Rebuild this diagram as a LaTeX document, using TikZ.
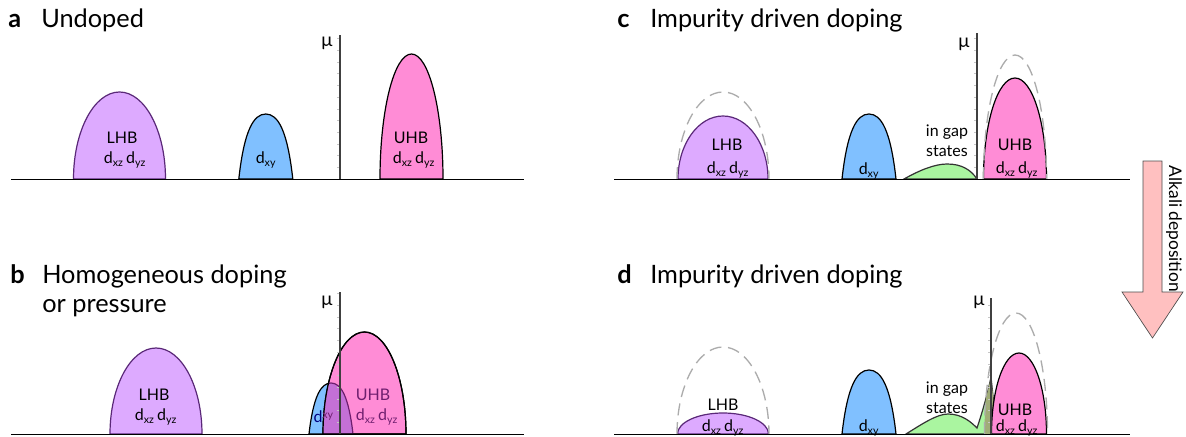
\documentclass[tikz,border=0pt]{standalone}
\usepackage{fontspec}
\setmainfont{Lato}

\definecolor{lhbfill}{RGB}{221,170,255}
\definecolor{lhbline}{RGB}{90,40,120}
\definecolor{dxyfill}{RGB}{128,192,255}
\definecolor{uhbfill}{RGB}{255,140,214}
\definecolor{gapfill}{RGB}{170,245,160}
\definecolor{gapdark}{RGB}{160,172,120}
\definecolor{mixfill}{RGB}{196,112,214}
\definecolor{mixline}{RGB}{110,30,110}
\definecolor{arrowfill}{RGB}{255,192,192}

% rounded band standing on the energy axis
\newcommand{\dome}[4]{({#1-#3},{#2}) arc[start angle=180,end angle=0,x radius=#3,y radius=#4] -- cycle}
% narrower, pointed band
\newcommand{\peak}[4]{({#1-#3},{#2}) .. controls ({#1-0.8*#3},{#2+0.75*#4}) and ({#1-0.45*#3},{#2+#4}) .. ({#1},{#2+#4})
  .. controls ({#1+0.45*#3},{#2+#4}) and ({#1+0.8*#3},{#2+0.75*#4}) .. ({#1+#3},{#2}) -- cycle}

\tikzset{
  band/.style={line width=0.9pt, draw=black},
  lhb/.style={band, fill=lhbfill, draw=lhbline},
  dxy/.style={band, fill=dxyfill},
  uhb/.style={band, fill=uhbfill},
  gap/.style={band, fill=gapfill, draw=black!80},
  ghost/.style={draw=gray!65, line width=1pt, dash pattern=on 9pt off 5pt},
  axisline/.style={line width=0.9pt, draw=black!75},
  tick/.style={draw=gray!45, line width=0.4pt},
  floor/.style={line width=0.75pt, draw=black},
  title/.style={font=\fontsize{19}{21.75}\selectfont, anchor=base west, inner sep=0pt},
  tag/.style={font=\fontsize{19}{21.75}\selectfont\bfseries, anchor=base west, inner sep=0pt},
  lbl/.style={font=\fontsize{12}{15}\selectfont, inner sep=0pt, align=center},
  mu/.style={font=\fontsize{14}{14}\selectfont, inner sep=0pt},
  arrowbox/.style={fill=arrowfill, draw=gray!60!black, line width=0.5pt},
}

\begin{document}
\begin{tikzpicture}[x=0.75pt, y=0.75pt]
\useasboundingbox (0,0) rectangle (1186,-436);

% a: undoped
\path[lhb] \dome{119.5}{-179}{46}{87};
\path[dxy] \peak{265.8}{-179}{27}{65};
\path[uhb] \dome{411.5}{-179}{31.5}{125};
\foreach \k in {1,...,12}
  \draw[tick] (337,{-179+\k*11.7}) -- (340,{-179+\k*11.7});
\draw[axisline] (340,-179) -- (340,-35);
\draw[floor] (11,-179) -- (524,-179);
\node[tag] (tagA) at (8,-27) {a};
\node[title] (titleA) at (41,-27) {Undoped};
\node[mu] (muA) at (327,-43) {μ};
\node[lbl] (lhbA) at (122,-138) {LHB};
\node[lbl] (lhbsubA) at (125,-160) {d\textsubscript{xz}\,d\textsubscript{yz}};
\node[lbl] (dxyA) at (266,-160) {d\textsubscript{xy}};
\node[lbl] (uhbA) at (411,-138) {UHB};
\node[lbl] (uhbsubA) at (414,-160) {d\textsubscript{xz}\,d\textsubscript{yz}};

% b: homogeneous doping
\path[lhb] \dome{156}{-434}{46}{86};
\path[dxy] \peak{331}{-434}{22}{51};
\path[uhb] \dome{364.5}{-434}{41.5}{102};
\begin{scope}
  \clip \dome{364.5}{-434}{41.5}{102};
  \fill[mixfill] \peak{331}{-434}{22}{51};
  \draw[line width=0.9pt, draw=mixline] \peak{331}{-434}{22}{51};
\end{scope}
\draw[band, fill=none] \dome{364.5}{-434}{41.5}{102};
\foreach \k in {1,...,12}
  \draw[tick] (337,{-434+\k*11.7}) -- (340,{-434+\k*11.7});
\draw[axisline] (340,-434) -- (340,-292);
\draw[floor] (11,-434) -- (524,-434);
\node[tag] (tagB) at (10,-283) {b};
\node[title] (titleB) at (42,-283) {Homogeneous doping};
\node[title] (titleB2) at (42,-312) {or pressure};
\node[mu] (muB) at (327,-302) {μ};
\node[lbl] (lhbB) at (154,-395) {LHB};
\node[lbl] (lhbsubB) at (156,-417) {d\textsubscript{xz}\,d\textsubscript{yz}};
\node[lbl, text=blue!50!black] (dxyB) at (318,-417) {d};
\node[lbl, text=mixline, anchor=west] (dxysubB) at (322,-417) {\textsubscript{xy}};
\node[lbl, text=mixline] (uhbB) at (373,-395) {UHB};
\node[lbl, text=mixline] (uhbsubB) at (377,-417) {d\textsubscript{xz}\,d\textsubscript{yz}};

% c: impurity driven doping
\path[lhb] \dome{723}{-179}{45}{63};
\path[dxy] \peak{869}{-179}{27}{65};
\path[gap] (904,-179) .. controls (920,-170) and (935,-164) .. (947,-164)
  .. controls (962,-164) and (971,-170) .. (977,-179) -- cycle;
\path[uhb] \dome{1015}{-179}{31.5}{101};
\draw[ghost] (677,-179) arc[start angle=180,end angle=0,x radius=46,y radius=87];
\draw[ghost] (983.5,-179) arc[start angle=180,end angle=0,x radius=31.5,y radius=124];
\foreach \k in {1,...,12}
  \draw[tick] (974,{-179+\k*11.7}) -- (977,{-179+\k*11.7});
\draw[axisline] (977,-179) -- (977,-33);
\draw[floor] (614,-179) -- (1130,-179);
\node[tag] (tagC) at (617,-27) {c};
\node[title] (titleC) at (650,-27) {Impurity driven doping};
\node[mu] (muC) at (964,-44) {μ};
\node[lbl] (lhbC) at (727,-145) {LHB};
\node[lbl] (lhbsubC) at (728,-170) {d\textsubscript{xz}\,d\textsubscript{yz}};
\node[lbl] (dxyC) at (869,-171) {d\textsubscript{xy}};
\node[lbl] (gapC) at (947,-141) {in gap\\states};
\node[lbl] (uhbC) at (1015,-145) {UHB};
\node[lbl] (uhbsubC) at (1017,-170) {d\textsubscript{xz}\,d\textsubscript{yz}};

% d: after alkali deposition
\path[gap] (906,-434) .. controls (922,-424) and (937,-414) .. (948,-414)
  .. controls (962,-414) and (971,-422) .. (977,-428)
  .. controls (983,-410) and (988,-392) .. (991,-377) -- (997,-434) -- cycle;
\begin{scope}
  \clip \dome{1016}{-434}{31.5}{121};
  \fill[gapdark] (906,-434) .. controls (922,-424) and (937,-414) .. (948,-414)
    .. controls (962,-414) and (971,-422) .. (977,-428)
    .. controls (983,-410) and (988,-392) .. (991,-377) -- (997,-434) -- cycle;
\end{scope}
\path[lhb] \dome{723}{-434}{45.5}{21};
\path[dxy] \peak{869}{-434}{27}{64};
\path[uhb] \dome{1019}{-434}{27.5}{81};
\draw[ghost] (677,-434) arc[start angle=180,end angle=0,x radius=46,y radius=87];
\draw[ghost] (984.5,-434) arc[start angle=180,end angle=0,x radius=31.5,y radius=121];
\foreach \k in {1,...,11}
  \draw[tick] (988,{-434+\k*11.7}) -- (991,{-434+\k*11.7});
\draw[axisline] (991,-434) -- (991,-298);
\draw[floor] (614,-434) -- (1130,-434);
\node[tag] (tagD) at (617,-283) {d};
\node[title] (titleD) at (650,-283) {Impurity driven doping};
\node[mu] (muD) at (979,-302) {μ};
\node[lbl] (lhbD) at (723,-405) {LHB};
\node[lbl] (lhbsubD) at (723,-428) {d\textsubscript{xz}\,d\textsubscript{yz}};
\node[lbl] (dxyD) at (869,-428) {d\textsubscript{xy}};
\node[lbl] (gapD) at (947,-398) {in gap\\states};
\node[lbl] (uhbD) at (1015,-410) {UHB};
\node[lbl] (uhbsubD) at (1017,-428) {d\textsubscript{xz}\,d\textsubscript{yz}};

% c -> d
\draw[arrowbox] (1143,-161) -- (1162,-161) -- (1162,-292) -- (1183,-292)
  -- (1152.5,-338) -- (1122,-292) -- (1143,-292) -- cycle;
\node[font=\fontsize{13}{13}\selectfont, rotate=-90, inner sep=0pt] (alkali) at (1174,-229) {Alkali deposition};
\end{tikzpicture}
\end{document}
